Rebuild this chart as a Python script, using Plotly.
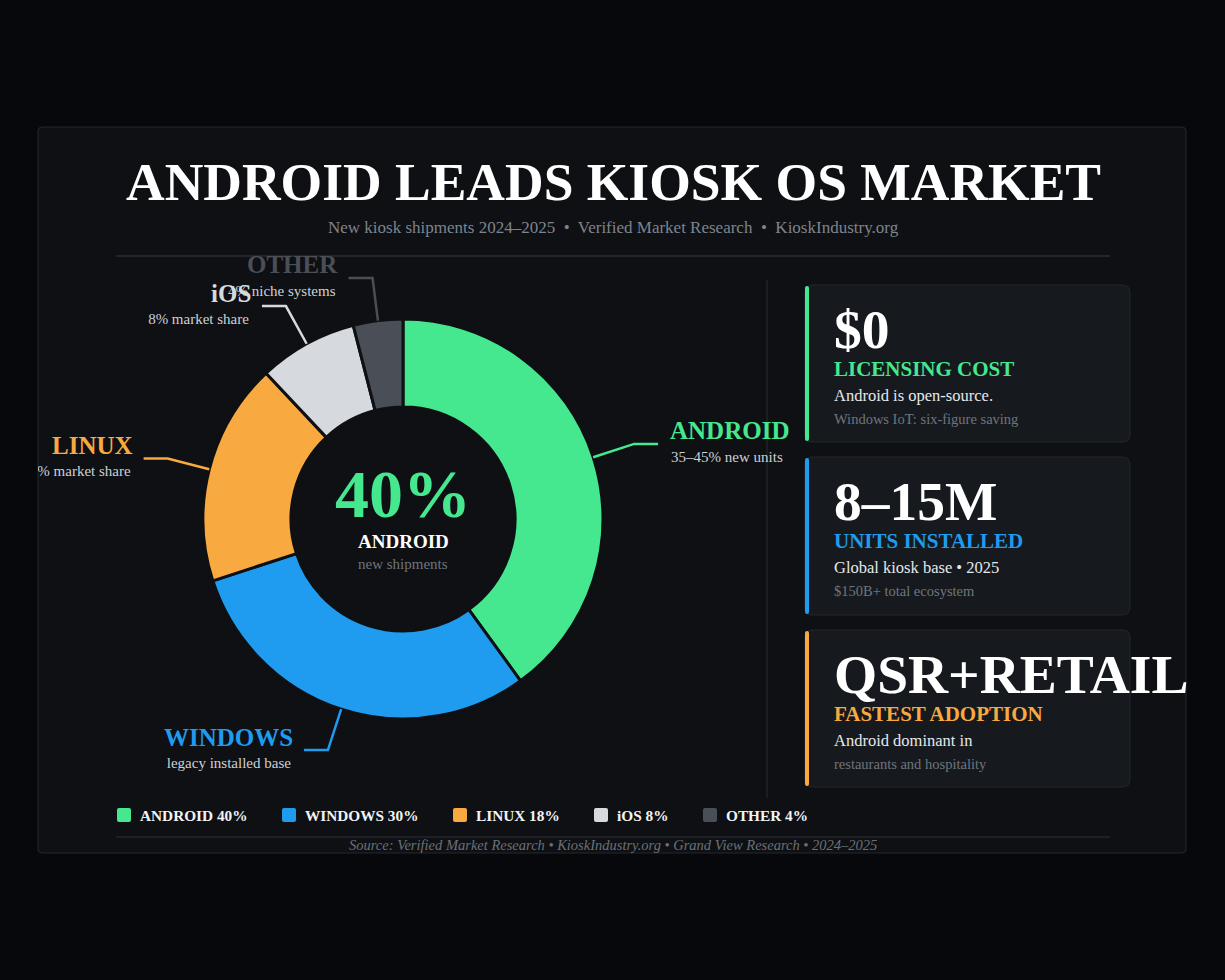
import math
import plotly.graph_objects as go

# ---------------- data ----------------
os_names = ["ANDROID", "WINDOWS", "LINUX", "iOS", "OTHER"]
os_share = [40, 30, 18, 8, 4]
os_colors = ["#46e88f", "#1f9cf0", "#f8a940", "#d6d9dd", "#4a4e56"]
os_notes = ["35–45% new units", "legacy installed base", "18% market share",
            "8% market share", "4% niche systems"]

center_value = "40%"
center_label = "ANDROID"
center_note = "new shipments"

card_values = ["$0", "8–15M", "QSR+RETAIL"]
card_labels = ["LICENSING COST", "UNITS INSTALLED", "FASTEST ADOPTION"]
card_line1 = ["Android is open-source.", "Global kiosk base • 2025", "Android dominant in"]
card_line2 = ["Windows IoT: six-figure saving", "$150B+ total ecosystem", "restaurants and hospitality"]
card_colors = ["#46e88f", "#1f9cf0", "#f8a940"]

title = "ANDROID LEADS KIOSK OS MARKET"
subtitle = "New kiosk shipments 2024–2025  •  Verified Market Research  •  KioskIndustry.org"
source = "Source: Verified Market Research • KioskIndustry.org • Grand View Research • 2024–2025"

# ---------------- layout constants ----------------
W, H = 1225, 980
SERIF = "Liberation Serif, Times New Roman, serif"
PAGE_BG = "#07080b"
PANEL_BG = "#0e1014"
CARD_BG = "#161a1f"
LINE_C = "#2a2e35"
PX0, PY0, PX1, PY1 = 38, 127, 1186, 853
CX, CY, R = 403, 519, 200
HOLE = 0.56
LEG_X = [117, 282, 453, 594, 703]
LEG_Y = 815
CARD_X0, CARD_X1 = 805, 1130
CARD_Y = [(285, 442), (457, 615), (630, 787)]


def rrect(x0, y0, x1, y1, r):
    return (f"M{x0+r},{y0} L{x1-r},{y0} Q{x1},{y0} {x1},{y0+r} L{x1},{y1-r} "
            f"Q{x1},{y1} {x1-r},{y1} L{x0+r},{y1} Q{x0},{y1} {x0},{y1-r} "
            f"L{x0},{y0+r} Q{x0},{y0} {x0+r},{y0} Z")


fig = go.Figure()

# donut
fig.add_trace(go.Pie(
    labels=os_names, values=os_share, sort=False, direction="clockwise", rotation=0,
    hole=HOLE, textinfo="none", hoverinfo="label+percent", showlegend=False,
    marker=dict(colors=os_colors, line=dict(color=PANEL_BG, width=3)),
    domain=dict(x=[(CX - R) / W, (CX + R) / W], y=[1 - (CY + R) / H, 1 - (CY - R) / H]),
))

shapes = []
annotations = []

# panel
shapes.append(dict(type="path", path=rrect(PX0, PY0, PX1, PY1, 4), xref="x", yref="y",
                   fillcolor=PANEL_BG, line=dict(color="#24272d", width=1), layer="below"))
# rules
shapes.append(dict(type="line", x0=116, x1=1110, y0=256, y1=256, xref="x", yref="y",
                   line=dict(color=LINE_C, width=1.5), layer="below"))
shapes.append(dict(type="line", x0=116, x1=1110, y0=837, y1=837, xref="x", yref="y",
                   line=dict(color="#22252b", width=1.5), layer="below"))
shapes.append(dict(type="line", x0=767, x1=767, y0=280, y1=798, xref="x", yref="y",
                   line=dict(color="#1f2227", width=1.5), layer="below"))

# title / subtitle / source
annotations.append(dict(x=613, y=182, xref="x", yref="y", text=f"<b>{title}</b>", showarrow=False,
                        font=dict(family=SERIF, size=53.5, color="#ffffff"), xanchor="center", yanchor="middle"))
annotations.append(dict(x=613, y=227, xref="x", yref="y", text=subtitle, showarrow=False,
                        font=dict(family=SERIF, size=17, color="#7e848d"), xanchor="center", yanchor="middle"))
annotations.append(dict(x=613, y=845, xref="x", yref="y", text=f"<i>{source}</i>", showarrow=False,
                        font=dict(family=SERIF, size=14.5, color="#6b7078"), xanchor="center", yanchor="middle"))

# center text
annotations.append(dict(x=CX, y=494, xref="x", yref="y", text=f"<b>{center_value}</b>", showarrow=False,
                        font=dict(family=SERIF, size=68, color=os_colors[0]), xanchor="center", yanchor="middle"))
annotations.append(dict(x=CX, y=541, xref="x", yref="y", text=f"<b>{center_label}</b>", showarrow=False,
                        font=dict(family=SERIF, size=19, color="#ffffff"), xanchor="center", yanchor="middle"))
annotations.append(dict(x=CX, y=564, xref="x", yref="y", text=center_note, showarrow=False,
                        font=dict(family=SERIF, size=15, color="#6f757d"), xanchor="center", yanchor="middle"))

# leader lines + labels computed from slice angles
total = sum(os_share)
cum = 0
note_x, note_y, note_pos = [], [], []
for name, share, col, note in zip(os_names, os_share, os_colors, os_notes):
    mid = math.radians((cum + share / 2) / total * 360)
    cum += share
    s, c = math.sin(mid), math.cos(mid)
    sx, sy = CX + R * s, CY - R * c
    ex, ey = CX + (R + 43) * s, CY - (R + 43) * c
    right = s > 0
    hx = ex + 24 if right else ex - 24
    shapes.append(dict(type="path", path=f"M{sx},{sy} L{ex},{ey} L{hx},{ey}", xref="x", yref="y",
                       line=dict(color=col, width=2.5)))
    lx = hx + 10 if right else hx - 9
    annotations.append(dict(x=lx, y=ey - 13, xref="x", yref="y", text=f"<b>{name}</b>", showarrow=False,
                            font=dict(family=SERIF, size=25, color=col),
                            xanchor="left" if right else "right", yanchor="middle"))
    note_x.append(lx + 3 if right else lx - 4)
    note_y.append(ey + 14)
    note_pos.append("middle right" if right else "middle left")

# notes as clipped text (clipped by panel)
fig.add_trace(go.Scatter(x=note_x, y=note_y, mode="text", text=os_notes, textposition=note_pos,
                         textfont=dict(family=SERIF, size=15, color="#cdd1d6"), cliponaxis=True,
                         hoverinfo="skip", showlegend=False, xaxis="x2", yaxis="y2"))

# legend
for lx, name, share, col in zip(LEG_X, os_names, os_share, os_colors):
    shapes.append(dict(type="path", path=rrect(lx, LEG_Y - 7, lx + 14, LEG_Y + 7, 2), xref="x", yref="y",
                       fillcolor=col, line=dict(width=0)))
    annotations.append(dict(x=lx + 21, y=LEG_Y, xref="x", yref="y", text=f"<b>{name} {share}%</b>",
                            showarrow=False, font=dict(family=SERIF, size=15.3, color="#f2f3f5"),
                            xanchor="left", yanchor="middle"))

# cards
for (y0, y1), val, lab, l1, l2, col in zip(CARD_Y, card_values, card_labels, card_line1, card_line2, card_colors):
    shapes.append(dict(type="path", path=rrect(CARD_X0, y0, CARD_X1, y1, 8), xref="x", yref="y",
                       fillcolor=CARD_BG, line=dict(color="#23272d", width=1), layer="below"))
    shapes.append(dict(type="path", path=rrect(CARD_X0, y0 + 1, CARD_X0 + 4, y1 - 1, 2), xref="x", yref="y",
                       fillcolor=col, line=dict(width=0), layer="below"))
    tx = 832
    annotations.append(dict(x=tx, y=y0 + 44, xref="x", yref="y", text=f"<b>{val}</b>", showarrow=False,
                            font=dict(family=SERIF, size=55.5, color="#ffffff"), xanchor="left", yanchor="middle"))
    annotations.append(dict(x=tx, y=y0 + 84, xref="x", yref="y", text=f"<b>{lab}</b>", showarrow=False,
                            font=dict(family=SERIF, size=21, color=col), xanchor="left", yanchor="middle"))
    annotations.append(dict(x=tx, y=y0 + 110, xref="x", yref="y", text=l1, showarrow=False,
                            font=dict(family=SERIF, size=16.5, color="#e6e8eb"), xanchor="left", yanchor="middle"))
    annotations.append(dict(x=tx, y=y0 + 134, xref="x", yref="y", text=l2, showarrow=False,
                            font=dict(family=SERIF, size=14.5, color="#6f757d"), xanchor="left", yanchor="middle"))

fig.update_layout(
    width=W, height=H, margin=dict(l=0, r=0, t=0, b=0),
    paper_bgcolor=PAGE_BG, plot_bgcolor="rgba(0,0,0,0)",
    xaxis=dict(range=[0, W], domain=[0, 1], visible=False, fixedrange=True),
    yaxis=dict(range=[H, 0], domain=[0, 1], visible=False, fixedrange=True),
    xaxis2=dict(range=[PX0, PX1], domain=[PX0 / W, PX1 / W], visible=False, fixedrange=True, anchor="y2"),
    yaxis2=dict(range=[PY1, PY0], domain=[1 - PY1 / H, 1 - PY0 / H], visible=False, fixedrange=True, anchor="x2"),
    shapes=shapes, annotations=annotations, showlegend=False,
)

fig.write_html(
    "out.html",
    config={"displayModeBar": False},
    post_script="document.body.style.margin='0';document.body.style.backgroundColor='#07080b';"
                "document.documentElement.style.overflow='hidden';",
)
